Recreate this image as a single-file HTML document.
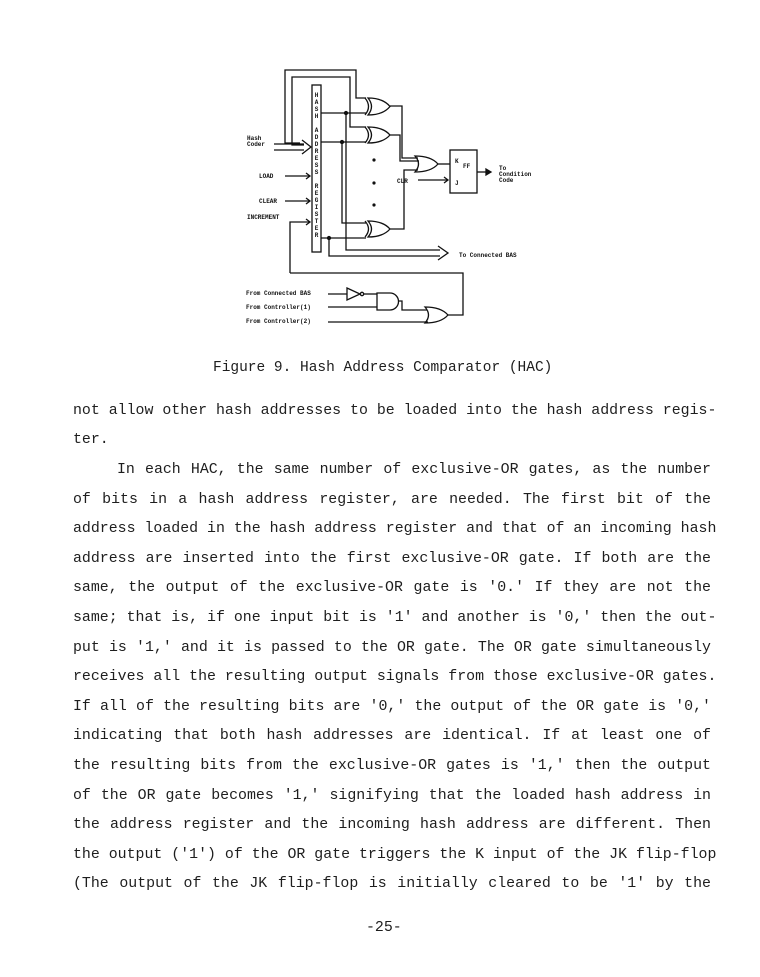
<!DOCTYPE html>
<html><head><meta charset="utf-8"><style>
body{margin:0;background:#fff;width:760px;height:977px;position:relative;overflow:hidden;font-family:"Liberation Mono",monospace;color:#1e1e1e}
.l{position:absolute;left:73px;width:638px;font-size:14.9px;white-space:nowrap;text-align:justify;text-align-last:justify;line-height:18px}
.n{text-align-last:left}
svg text{font-family:"Liberation Mono",monospace;font-weight:bold;font-size:6px;fill:#111}
</style></head><body>
<svg width="760" height="977" style="position:absolute;left:0;top:0" fill="none" stroke="#111" stroke-width="1.3">
<!-- register -->
<rect x="312" y="85" width="9" height="167"/>
<g font-size="5.5" text-anchor="middle" stroke="none">
<text x="316.5" y="97">H</text><text x="316.5" y="104">A</text><text x="316.5" y="111">S</text><text x="316.5" y="118">H</text>
<text x="316.5" y="132">A</text><text x="316.5" y="139">D</text><text x="316.5" y="146">D</text><text x="316.5" y="153">R</text><text x="316.5" y="160">E</text><text x="316.5" y="167">S</text><text x="316.5" y="174">S</text>
<text x="316.5" y="188">R</text><text x="316.5" y="195">E</text><text x="316.5" y="202">G</text><text x="316.5" y="209">I</text><text x="316.5" y="216">S</text><text x="316.5" y="223">T</text><text x="316.5" y="230">E</text><text x="316.5" y="237">R</text>
</g>
<!-- loops -->
<polyline points="300,143 285,143 285,70 356,70 356,98 366,98"/>
<polyline points="304,145 292,145 292,77 350,77 350,127 366,127"/>
<!-- hash coder double arrow -->
<polyline points="274,144 304,144"/><polyline points="274,150 304,150"/><polyline points="302,140 311,147 302,154"/>
<!-- inputs -->
<line x1="285" y1="176" x2="310" y2="176"/><polyline points="306,173 310,176 306,179"/>
<line x1="285" y1="201" x2="310" y2="201"/><polyline points="306,198 310,201 306,204"/>
<polyline points="290,273 290,222 310,222"/><polyline points="306,219 310,222 306,225"/>
<!-- outputs -->
<polyline points="321,113 366,113"/><circle cx="346" cy="113" r="1.5" fill="#111"/>
<polyline points="321,142 366,142"/><circle cx="342" cy="142" r="1.5" fill="#111"/>
<polyline points="321,238 366,238"/><circle cx="329" cy="238" r="1.5" fill="#111"/>
<polyline points="346,113 346,250 440,250"/>
<polyline points="342,142 342,223 366,223"/>
<polyline points="329,238 329,256 440,256"/>
<polyline points="438,246 448,253 438,260"/>
<!-- XOR gates -->
<g>
<path d="M365,98 Q372,106.5 365,115"/><path d="M368,98 Q375,106.5 368,115 Q383,115 390,106.5 Q383,98 368,98Z"/>
<path d="M365,127 Q372,135 365,143"/><path d="M368,127 Q375,135 368,143 Q383,143 390,135 Q383,127 368,127Z"/>
<path d="M365,221 Q372,229 365,237"/><path d="M368,221 Q375,229 368,237 Q383,237 390,229 Q383,221 368,221Z"/>
</g>
<g fill="#111" stroke="none"><circle cx="374" cy="160" r="1.6"/><circle cx="374" cy="183" r="1.6"/><circle cx="374" cy="205" r="1.6"/></g>
<!-- OR gate -->
<path d="M415,156 Q422,164 415,172 Q431,172 438,164 Q431,156 415,156Z"/>
<polyline points="390,106 402,106 402,158 418,158"/>
<polyline points="390,135 400,135 400,161 419,161"/>
<polyline points="390,229 404,229 404,170 418,170"/>
<line x1="438" y1="164" x2="450" y2="164"/>
<rect x="450" y="150" width="27" height="43"/>
<line x1="418" y1="180" x2="448" y2="180"/><polyline points="444,177 448,180 444,183"/>
<line x1="477" y1="172" x2="488" y2="172"/><path d="M486,169 L491,172 L486,175Z" fill="#111"/>
<!-- bottom logic -->
<line x1="328" y1="294" x2="347" y2="294"/>
<path d="M347,288 L360,294 L347,300Z"/><circle cx="362" cy="294" r="1.7"/>
<line x1="364" y1="294" x2="377" y2="294"/>
<path d="M377,293 L390,293 A8.5,8.5 0 0 1 390,310 L377,310Z"/>
<line x1="328" y1="307" x2="377" y2="307"/>
<polyline points="398,301 402,301 402,310 427,310"/>
<path d="M425,307 Q432,315 425,323 Q441,323 448,315 Q441,307 425,307Z"/>
<line x1="328" y1="322" x2="428" y2="322"/>
<polyline points="448,315 463,315 463,273 290,273"/>
<g stroke="none">
<text x="247" y="140">Hash</text><text x="247" y="146">Coder</text>
<text x="259" y="178">LOAD</text><text x="259" y="203">CLEAR</text><text x="247" y="219">INCREMENT</text>
<text x="397" y="183">CLR</text>
<text x="455" y="163">K</text><text x="463" y="168">FF</text><text x="455" y="185">J</text>
<text x="499" y="170">To</text><text x="499" y="176">Condition</text><text x="499" y="182">Code</text>
<text x="459" y="257">To Connected BAS</text>
<text x="246" y="295">From Connected BAS</text><text x="246" y="309">From Controller(1)</text><text x="246" y="323">From Controller(2)</text>
</g>
</svg>
<div class="l n" style="left:213px;top:359px;width:auto;font-size:14.5px">Figure 9. Hash Address Comparator (HAC)</div>
<div class="l" style="top:402px">not allow other hash addresses to be loaded into the hash address regis-</div>
<div class="l n" style="top:431px">ter.</div>
<div class="l" style="top:461px;left:117px;width:594px">In each HAC, the same number of exclusive-OR gates, as the number</div>
<div class="l" style="top:491px">of bits in a hash address register, are needed. The first bit of the</div>
<div class="l" style="top:520px">address loaded in the hash address register and that of an incoming hash</div>
<div class="l" style="top:550px">address are inserted into the first exclusive-OR gate. If both are the</div>
<div class="l" style="top:579px">same, the output of the exclusive-OR gate is '0.' If they are not the</div>
<div class="l" style="top:609px">same; that is, if one input bit is '1' and another is '0,' then the out-</div>
<div class="l" style="top:639px">put is '1,' and it is passed to the OR gate. The OR gate simultaneously</div>
<div class="l" style="top:668px">receives all the resulting output signals from those exclusive-OR gates.</div>
<div class="l" style="top:698px">If all of the resulting bits are '0,' the output of the OR gate is '0,'</div>
<div class="l" style="top:727px">indicating that both hash addresses are identical. If at least one of</div>
<div class="l" style="top:757px">the resulting bits from the exclusive-OR gates is '1,' then the output</div>
<div class="l" style="top:787px">of the OR gate becomes '1,' signifying that the loaded hash address in</div>
<div class="l" style="top:816px">the address register and the incoming hash address are different. Then</div>
<div class="l" style="top:846px">the output ('1') of the OR gate triggers the K input of the JK flip-flop</div>
<div class="l" style="top:875px">(The output of the JK flip-flop is initially cleared to be '1' by the</div>
<div class="l n" style="top:919px;left:366px;width:auto">-25-</div>
</body></html>
